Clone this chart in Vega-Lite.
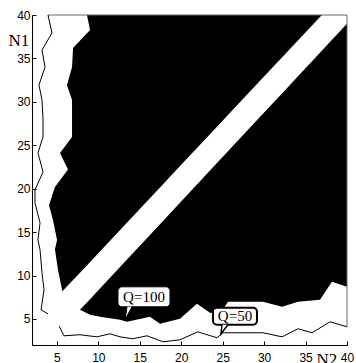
{
  "$schema": "https://vega.github.io/schema/vega-lite/v6.json",
  "width": 315,
  "height": 330,
  "autosize": {"type": "none"},
  "padding": {"left": 32, "top": 15, "right": 9, "bottom": 18},
  "background": "white",
  "config": {
    "view": {"stroke": null},
    "axis": {
      "grid": false,
      "domainColor": "black",
      "domainWidth": 1,
      "tickColor": "black",
      "tickSize": -4,
      "labelFont": "Liberation Sans",
      "labelFontSize": 12,
      "labelColor": "black",
      "labelOverlap": false,
      "labelFlush": false,
      "titleFont": "Liberation Serif",
      "titleFontWeight": "normal",
      "titleFontSize": 17,
      "titleColor": "black"
    }
  },
  "datasets": {
    "ul": [
      {"n1": 40, "l": 8.63, "r": 36.97},
      {"n1": 38.27, "l": 9.0, "r": 35.27},
      {"n1": 36.2, "l": 6.95, "r": 33.23},
      {"n1": 34.0, "l": 6.83, "r": 31.07},
      {"n1": 31.9, "l": 6.22, "r": 29.0},
      {"n1": 30.2, "l": 6.83, "r": 27.33},
      {"n1": 25.96, "l": 6.83, "r": 23.16},
      {"n1": 24.1, "l": 5.38, "r": 21.33},
      {"n1": 22.2, "l": 6.34, "r": 19.46},
      {"n1": 20.2, "l": 4.77, "r": 17.5},
      {"n1": 18.1, "l": 4.05, "r": 15.43},
      {"n1": 16.4, "l": 4.53, "r": 13.76},
      {"n1": 14.1, "l": 5.02, "r": 11.5},
      {"n1": 13.0, "l": 4.77, "r": 10.42},
      {"n1": 10.65, "l": 5.14, "r": 8.11},
      {"n1": 8.2, "l": 5.66, "r": 5.66}
    ],
    "lr": [
      {"n2": 7.79, "b": 6.05, "t": 6.05},
      {"n2": 9.0, "b": 5.48, "t": 7.28},
      {"n2": 10.2, "b": 5.25, "t": 8.51},
      {"n2": 12.62, "b": 4.9, "t": 10.98},
      {"n2": 13.46, "b": 4.67, "t": 11.84},
      {"n2": 16.23, "b": 5.25, "t": 14.67},
      {"n2": 17.44, "b": 4.44, "t": 15.91},
      {"n2": 19.85, "b": 5.02, "t": 18.38},
      {"n2": 21.9, "b": 6.74, "t": 20.47},
      {"n2": 23.47, "b": 5.71, "t": 22.08},
      {"n2": 24.68, "b": 5.59, "t": 23.32},
      {"n2": 25.64, "b": 6.97, "t": 24.3},
      {"n2": 29.86, "b": 6.97, "t": 28.62},
      {"n2": 32.16, "b": 6.4, "t": 30.97},
      {"n2": 34.09, "b": 6.97, "t": 32.94},
      {"n2": 36.74, "b": 7.2, "t": 35.66},
      {"n2": 38.19, "b": 9.27, "t": 37.14},
      {"n2": 40.0, "b": 8.7, "t": 39.0}
    ],
    "contour": [
      {"s": "left", "i": 0, "n2": 3.93, "n1": 40},
      {"s": "left", "i": 1, "n2": 4.41, "n1": 37.93},
      {"s": "left", "i": 2, "n2": 3.21, "n1": 35.97},
      {"s": "left", "i": 3, "n2": 3.57, "n1": 34.0},
      {"s": "left", "i": 4, "n2": 2.84, "n1": 31.94},
      {"s": "left", "i": 5, "n2": 3.21, "n1": 30.21},
      {"s": "left", "i": 6, "n2": 3.33, "n1": 27.92},
      {"s": "left", "i": 7, "n2": 3.33, "n1": 25.96},
      {"s": "left", "i": 8, "n2": 2.72, "n1": 24.12},
      {"s": "left", "i": 9, "n2": 3.33, "n1": 21.93},
      {"s": "left", "i": 10, "n2": 2.36, "n1": 19.86},
      {"s": "left", "i": 11, "n2": 2.36, "n1": 18.37},
      {"s": "left", "i": 12, "n2": 2.97, "n1": 16.06},
      {"s": "left", "i": 13, "n2": 2.72, "n1": 14.11},
      {"s": "left", "i": 14, "n2": 2.97, "n1": 12.96},
      {"s": "left", "i": 15, "n2": 3.21, "n1": 10.31},
      {"s": "left", "i": 16, "n2": 3.45, "n1": 8.35},
      {"s": "left", "i": 17, "n2": 3.09, "n1": 6.05},
      {"s": "left", "i": 18, "n2": 3.93, "n1": 5.59},
      {"s": "bottom", "i": 0, "n2": 5.26, "n1": 4.21},
      {"s": "bottom", "i": 1, "n2": 5.86, "n1": 3.06},
      {"s": "bottom", "i": 2, "n2": 7.79, "n1": 3.18},
      {"s": "bottom", "i": 3, "n2": 9.84, "n1": 2.94},
      {"s": "bottom", "i": 4, "n2": 11.41, "n1": 3.29},
      {"s": "bottom", "i": 5, "n2": 12.62, "n1": 2.94},
      {"s": "bottom", "i": 6, "n2": 14.18, "n1": 2.72},
      {"s": "bottom", "i": 7, "n2": 15.87, "n1": 3.06},
      {"s": "bottom", "i": 8, "n2": 17.8, "n1": 2.37},
      {"s": "bottom", "i": 9, "n2": 19.85, "n1": 2.6},
      {"s": "bottom", "i": 10, "n2": 22.02, "n1": 3.52},
      {"s": "bottom", "i": 11, "n2": 24.32, "n1": 2.83},
      {"s": "bottom", "i": 12, "n2": 25.04, "n1": 3.41},
      {"s": "bottom", "i": 13, "n2": 27.09, "n1": 3.41},
      {"s": "bottom", "i": 14, "n2": 29.86, "n1": 3.41},
      {"s": "bottom", "i": 15, "n2": 32.16, "n1": 2.94},
      {"s": "bottom", "i": 16, "n2": 34.09, "n1": 3.87},
      {"s": "bottom", "i": 17, "n2": 35.78, "n1": 3.41},
      {"s": "bottom", "i": 18, "n2": 37.95, "n1": 4.67},
      {"s": "bottom", "i": 19, "n2": 40.0, "n1": 4.1}
    ],
    "frame": [
      {"i": 0, "n2": 3.93, "n1": 40},
      {"i": 1, "n2": 40, "n1": 40},
      {"i": 2, "n2": 40, "n1": 4.1}
    ],
    "box100": [{"x1": 12.37, "x2": 18.65, "y1": 6.4, "y2": 8.7, "label": "Q=100", "cx": 15.51, "cy": 7.55}],
    "box50": [{"x1": 23.83, "x2": 29.14, "y1": 4.33, "y2": 6.28, "label": "Q=50", "cx": 26.49, "cy": 5.31}],
    "ptr100": [
      {"i": 0, "n2": 13.46, "n1": 6.4},
      {"i": 1, "n2": 13.22, "n1": 4.9},
      {"i": 2, "n2": 14.06, "n1": 6.4}
    ],
    "ptr50": [
      {"i": 0, "n2": 24.92, "n1": 4.33},
      {"i": 1, "n2": 24.8, "n1": 3.29},
      {"i": 2, "n2": 25.64, "n1": 4.33}
    ]
  },
  "layer": [
    {
      "data": {"name": "ul"},
      "mark": {"type": "area", "orient": "horizontal", "color": "black"},
      "encoding": {
        "y": {
          "field": "n1", "type": "quantitative",
          "scale": {"domain": [2, 40], "nice": false, "zero": false},
          "axis": {
            "title": "N1", "values": [5, 10, 15, 20, 25, 30, 35, 40],
            "labelPadding": 6,
            "titleAngle": 0, "titleX": -24, "titleY": 30,
            "titleAlign": "left", "titleBaseline": "alphabetic"
          }
        },
        "x": {
          "field": "l", "type": "quantitative",
          "scale": {"domain": [2, 40], "nice": false, "zero": false},
          "axis": {
            "title": "N2", "values": [5, 10, 15, 20, 25, 30, 35, 40],
            "labelPadding": 11,
            "titleX": 284, "titleY": 19,
            "titleAlign": "left", "titleBaseline": "alphabetic"
          }
        },
        "x2": {"field": "r"}
      }
    },
    {
      "data": {"name": "lr"},
      "mark": {"type": "area", "orient": "vertical", "color": "black"},
      "encoding": {
        "x": {"field": "n2", "type": "quantitative"},
        "y": {"field": "b", "type": "quantitative"},
        "y2": {"field": "t"}
      }
    },
    {
      "data": {"name": "frame"},
      "mark": {"type": "line", "color": "#666666", "strokeWidth": 1},
      "encoding": {
        "x": {"field": "n2", "type": "quantitative"},
        "y": {"field": "n1", "type": "quantitative"},
        "order": {"field": "i", "type": "quantitative"}
      }
    },
    {
      "data": {"name": "contour"},
      "mark": {"type": "line", "color": "black", "strokeWidth": 1},
      "encoding": {
        "x": {"field": "n2", "type": "quantitative"},
        "y": {"field": "n1", "type": "quantitative"},
        "detail": {"field": "s", "type": "nominal"},
        "order": {"field": "i", "type": "quantitative"}
      }
    },
    {
      "data": {"name": "box100"},
      "mark": {"type": "rect", "fill": "white", "stroke": "black", "strokeWidth": 1, "cornerRadius": 4},
      "encoding": {
        "x": {"field": "x1", "type": "quantitative"},
        "x2": {"field": "x2"},
        "y": {"field": "y1", "type": "quantitative"},
        "y2": {"field": "y2"}
      }
    },
    {
      "data": {"name": "box50"},
      "mark": {"type": "rect", "fill": "white", "stroke": "black", "strokeWidth": 2, "cornerRadius": 4},
      "encoding": {
        "x": {"field": "x1", "type": "quantitative"},
        "x2": {"field": "x2"},
        "y": {"field": "y1", "type": "quantitative"},
        "y2": {"field": "y2"}
      }
    },
    {
      "data": {"name": "ptr100"},
      "mark": {"type": "line", "fill": "white", "stroke": "black", "strokeWidth": 1},
      "encoding": {
        "x": {"field": "n2", "type": "quantitative"},
        "y": {"field": "n1", "type": "quantitative"},
        "order": {"field": "i", "type": "quantitative"}
      }
    },
    {
      "data": {"name": "ptr50"},
      "mark": {"type": "line", "fill": "white", "stroke": "black", "strokeWidth": 1.5},
      "encoding": {
        "x": {"field": "n2", "type": "quantitative"},
        "y": {"field": "n1", "type": "quantitative"},
        "order": {"field": "i", "type": "quantitative"}
      }
    },
    {
      "data": {"name": "box100"},
      "mark": {"type": "text", "font": "Liberation Serif", "fontSize": 15, "color": "black", "align": "center", "baseline": "middle"},
      "encoding": {
        "x": {"field": "cx", "type": "quantitative"},
        "y": {"field": "cy", "type": "quantitative"},
        "text": {"field": "label"}
      }
    },
    {
      "data": {"name": "box50"},
      "mark": {"type": "text", "font": "Liberation Serif", "fontSize": 15, "color": "black", "align": "center", "baseline": "middle"},
      "encoding": {
        "x": {"field": "cx", "type": "quantitative"},
        "y": {"field": "cy", "type": "quantitative"},
        "text": {"field": "label"}
      }
    }
  ]
}
